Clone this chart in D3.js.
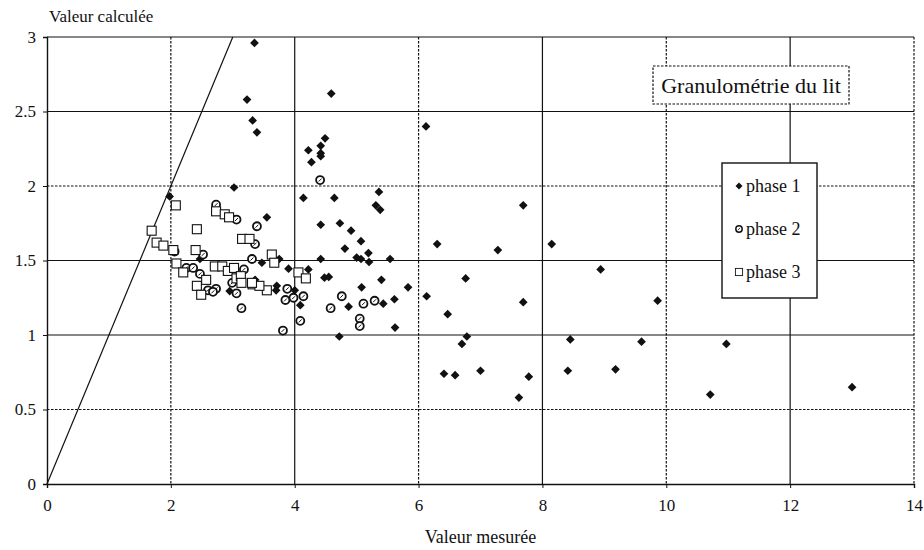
<!DOCTYPE html>
<html>
<head>
<meta charset="utf-8">
<script src="https://cdn.jsdelivr.net/npm/d3@7/dist/d3.min.js"></script>
<style>
    body { margin: 0; background: #fff; }
    svg text { font-family: 'Liberation Serif', 'Times New Roman', 'DejaVu Serif', serif !important; fill: #111; }
</style>
</head>
<body>
<div id="chart"></div>
<script>
//Data
const xTicks = [0, 2, 4, 6, 8, 10, 12, 14];
const yTicks = [0, 0.5, 1, 1.5, 2, 2.5, 3];
const seriesNames = ['phase 1', 'phase 2', 'phase 3'];
const refLine = [[0, 0], [3, 3]];

// phase 1 : losanges noirs
const phase1 = [
    [1.98, 1.93], [3.35, 2.96], [3.23, 2.58], [3.32, 2.44], [3.39, 2.36], [4.59, 2.62],
    [4.49, 2.32], [4.42, 2.27], [4.42, 2.22], [4.42, 2.20], [4.22, 2.24], [4.27, 2.16],
    [4.14, 1.92], [4.64, 1.92], [5.36, 1.96], [5.31, 1.87], [5.38, 1.84], [3.02, 1.99],
    [6.12, 2.40], [4.42, 1.74], [4.73, 1.75], [4.91, 1.70], [5.07, 1.63], [4.81, 1.58],
    [5.19, 1.55], [5.00, 1.52], [5.07, 1.51], [5.20, 1.49], [4.42, 1.51], [5.54, 1.51],
    [4.48, 1.385], [4.55, 1.39], [5.40, 1.37], [5.08, 1.32], [5.83, 1.32], [6.13, 1.26],
    [5.61, 1.24], [4.87, 1.19], [5.43, 1.21], [5.62, 1.05], [4.72, 0.99], [6.30, 1.61],
    [7.28, 1.57], [6.76, 1.38], [6.47, 1.14], [6.78, 0.99], [6.70, 0.94], [7.69, 1.87],
    [8.15, 1.61], [8.94, 1.44], [7.69, 1.22], [9.86, 1.23], [8.45, 0.97], [9.60, 0.955],
    [10.97, 0.94], [7.78, 0.72], [7.62, 0.58], [8.41, 0.76], [9.18, 0.77], [10.71, 0.60],
    [13.0, 0.65], [6.41, 0.74], [6.59, 0.73], [7.00, 0.76], [3.55, 1.79], [3.47, 1.485],
    [3.75, 1.51], [3.90, 1.445], [4.22, 1.44], [3.71, 1.33], [3.70, 1.30], [4.00, 1.30],
    [4.09, 1.20], [3.36, 1.37], [2.47, 1.51], [2.95, 1.295]
];
// phase 2 : ronds hachurés
const phase2 = [
    [4.41, 2.04], [4.76, 1.26], [4.58, 1.18], [5.11, 1.21], [5.29, 1.23], [5.05, 1.11],
    [5.05, 1.06], [3.06, 1.775], [3.39, 1.73], [3.36, 1.61], [3.31, 1.51], [3.18, 1.44],
    [3.06, 1.28], [3.88, 1.31], [3.85, 1.235], [3.98, 1.25], [4.14, 1.26], [3.14, 1.18],
    [4.09, 1.095], [3.81, 1.03], [2.06, 1.56], [2.52, 1.54], [2.25, 1.45], [2.36, 1.45],
    [2.47, 1.41], [2.73, 1.31], [2.73, 1.875], [2.99, 1.35], [2.60, 1.30], [2.68, 1.29]
];
// phase 3 : carrés blancs
const phase3 = [
    [1.69, 1.70], [2.08, 1.87], [2.42, 1.71], [1.77, 1.62], [1.88, 1.60], [2.04, 1.57],
    [2.40, 1.57], [2.09, 1.48], [2.20, 1.42], [2.57, 1.37], [2.42, 1.33], [2.49, 1.27],
    [2.71, 1.46], [2.83, 1.46], [2.92, 1.43], [2.73, 1.83], [2.87, 1.81], [2.94, 1.79],
    [3.06, 1.38], [3.02, 1.45], [3.13, 1.395], [3.14, 1.35], [3.32, 1.34], [3.55, 1.30],
    [3.43, 1.33], [3.15, 1.645], [3.27, 1.645], [3.63, 1.54], [3.67, 1.485], [4.06, 1.42],
    [4.18, 1.38], [3.31, 1.35]
];

//Layout
const svg_width = 924;
const svg_height = 550;
const chart_margin = { top: 37, right: 10, bottom: 66, left: 47 };
const chart_width = svg_width - chart_margin.left - chart_margin.right;
const chart_height = svg_height - chart_margin.top - chart_margin.bottom;
const serif = "'Liberation Serif', 'Times New Roman', 'DejaVu Serif', serif";

// lignes pointillées de la grille
const dashedX = [2, 6, 10, 14];
const dashedY = [0.5, 2];

const svg = d3.select('#chart').append('svg')
    .attr('width', svg_width).attr('height', svg_height)
    .attr('font-family', serif)
    .style('background', '#fff');
const g = svg.append('g')
    .attr('transform', `translate(${chart_margin.left},${chart_margin.top})`);

const xScale = d3.scaleLinear([0, 14], [0, chart_width]);
const yScale = d3.scaleLinear([0, 3], [chart_height, 0]);

//Grid
g.append('g').selectAll('line').data(xTicks.filter(d => d > 0)).join('line')
    .attr('x1', d => xScale(d)).attr('x2', d => xScale(d))
    .attr('y1', 0).attr('y2', chart_height)
    .attr('stroke', '#111').attr('stroke-width', 1.2)
    .attr('stroke-dasharray', d => dashedX.includes(d) ? '2.5,1.5' : null);

g.append('g').selectAll('line').data(yTicks.filter(d => d > 0)).join('line')
    .attr('x1', 0).attr('x2', chart_width)
    .attr('y1', d => yScale(d)).attr('y2', d => yScale(d))
    .attr('stroke', '#111').attr('stroke-width', 1.2)
    .attr('stroke-dasharray', d => dashedY.includes(d) ? '2.5,1.5' : null);

//Axes
const xAxis = d3.axisBottom(xScale).tickValues(xTicks).tickSize(4).tickPadding(11)
    .tickFormat(d3.format('~g'));
const yAxis = d3.axisLeft(yScale).tickValues(yTicks).tickSize(4).tickPadding(7)
    .tickFormat(d3.format('~g'));

const xAxisDraw = g.append('g').attr('transform', `translate(0,${chart_height})`).call(xAxis);
const yAxisDraw = g.append('g').call(yAxis);
[xAxisDraw, yAxisDraw].forEach(a => {
    a.attr('font-family', serif);
    a.select('.domain').attr('stroke', '#111').attr('stroke-width', 1.4);
    a.selectAll('.tick line').attr('stroke', '#111');
    a.selectAll('text').style('font-size', '17px').attr('fill', '#111');
});

//Reference line y = x
g.append('path').datum(refLine)
    .attr('d', d3.line().x(d => xScale(d[0])).y(d => yScale(d[1])))
    .attr('fill', 'none').attr('stroke', '#111').attr('stroke-width', 1.2);

//Markers
const diamond = d3.symbol(d3.symbolSquare, 38)();
function drawMarker(sel, type) {
    if (type === 0) {
        sel.append('path').attr('d', diamond).attr('transform', 'rotate(45)')
            .attr('fill', '#111');
    } else if (type === 1) {
        sel.append('circle').attr('r', 4).attr('fill', '#fff')
            .attr('stroke', '#111').attr('stroke-width', 1.8);
        sel.append('line').attr('x1', -1.5).attr('y1', 1.5).attr('x2', 1.5).attr('y2', -1.5)
            .attr('stroke', '#111').attr('stroke-width', 1);
    } else {
        sel.append('rect').attr('x', -4.5).attr('y', -4.5).attr('width', 9).attr('height', 9)
            .attr('fill', '#fff').attr('stroke', '#111').attr('stroke-width', 1.1);
    }
}

[phase1, phase2, phase3].forEach((data, i) => {
    g.append('g').attr('class', 'series')
        .selectAll('g').data(data).join('g')
        .attr('transform', d => `translate(${xScale(d[0])},${yScale(d[1])})`)
        .each(function () { drawMarker(d3.select(this), i); });
});

//Axis titles
svg.append('text').attr('x', 49).attr('y', 22)
    .style('font-size', '17px').text('Valeur calculée');
svg.append('text').attr('x', chart_margin.left + xScale(7)).attr('y', 543)
    .attr('text-anchor', 'middle').style('font-size', '18px').text('Valeur mesurée');

//Title box
const titleBox = svg.append('g').attr('transform', 'translate(653,66)');
titleBox.append('rect').attr('width', 196).attr('height', 38)
    .attr('fill', '#fff').attr('stroke', '#111').attr('stroke-width', 1.2)
    .attr('stroke-dasharray', '2.5,1.5');
titleBox.append('text').attr('x', 98).attr('y', 27).attr('text-anchor', 'middle')
    .style('font-size', '22px').text('Granulométrie du lit');

//Legend
const legend = svg.append('g').attr('transform', 'translate(722,163)');
legend.append('rect').attr('width', 95).attr('height', 135)
    .attr('fill', '#fff').attr('stroke', '#111').attr('stroke-width', 1.4);
const items = legend.selectAll('.item').data(seriesNames).join('g').attr('class', 'item')
    .attr('transform', (d, i) => `translate(17,${23 + i * 43})`);
items.each(function (d, i) {
    const m = d3.select(this).append('g').attr('transform', 'scale(0.8)');
    drawMarker(m, i);
});
items.append('text').attr('x', 7).attr('y', 6).style('font-size', '18px').text(d => d);
</script>
</body>
</html>
